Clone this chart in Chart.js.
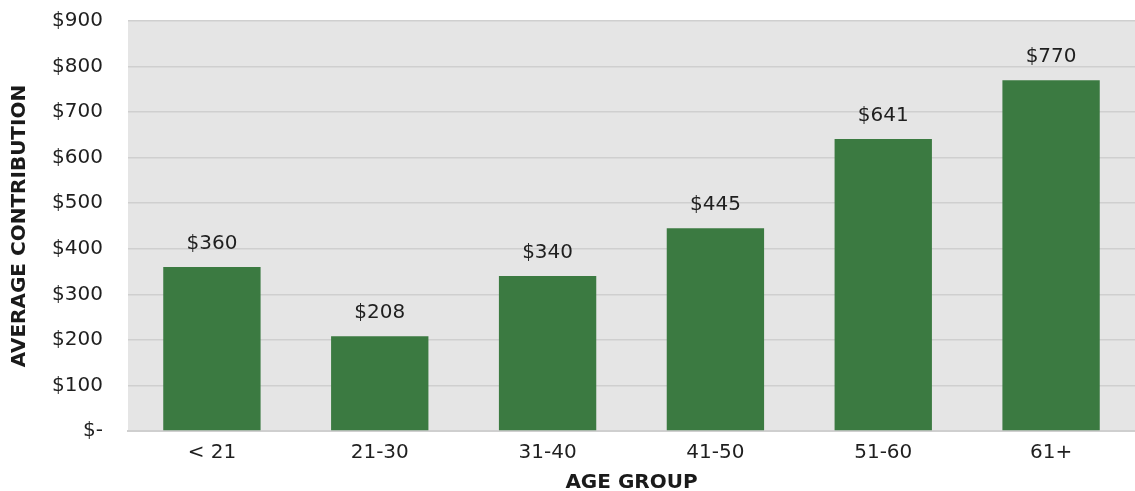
<!DOCTYPE html>
<html>
<head>
<meta charset="utf-8">
<script src="https://cdn.jsdelivr.net/npm/chart.js@4"></script>
<style>
  html, body { margin: 0; padding: 0; background: #fff; }
  #wrap { width: 1135px; height: 491px; }
</style>
</head>
<body>
<div id="wrap"><canvas id="myChart"></canvas></div>
<script>
'use strict';
let ageGroups = ['< 21', '21-30', '31-40', '41-50', '51-60', '61+'];
let avgContribution = [360, 208, 340, 445, 641, 770];
let tickValues = [0, 100, 200, 300, 400, 500, 600, 700, 800, 900];

const fontName = '"DejaVu Sans", sans-serif';

// gray plot background
const plotBg = {
  id: 'plotBg',
  beforeDraw(chart) {
    const a = chart.chartArea;
    const ctx = chart.ctx;
    ctx.save();
    ctx.fillStyle = '#e5e5e5';
    ctx.fillRect(a.left, a.top, a.right - a.left, a.bottom - a.top);
    ctx.restore();
  }
};

// value labels above each bar
const barLabels = {
  id: 'barLabels',
  afterDatasetsDraw(chart) {
    const ctx = chart.ctx;
    const meta = chart.getDatasetMeta(0);
    ctx.save();
    ctx.font = '20px ' + fontName;
    ctx.fillStyle = '#1f1f1f';
    ctx.textAlign = 'center';
    ctx.textBaseline = 'middle';
    meta.data.forEach(function (bar, i) {
      ctx.fillText('$' + avgContribution[i], bar.x, bar.y - 23);
    });
    ctx.restore();
  }
};

const ctx = document.getElementById('myChart').getContext('2d');
const myChart = new Chart(ctx, {
  type: 'bar',
  data: {
    labels: ageGroups,
    datasets: [{
      label: 'Average contribution',
      data: avgContribution,
      backgroundColor: '#3b7a41',
      borderWidth: 0,
      categoryPercentage: 1,
      barPercentage: 0.58
    }]
  },
  options: {
    responsive: true,
    maintainAspectRatio: false,
    animation: false,
    layout: { padding: { top: 21, right: 0, bottom: 0, left: 0 } },
    plugins: {
      legend: { display: false },
      tooltip: { enabled: false }
    },
    scales: {
      x: {
        grid: { display: false, drawTicks: false },
        border: { display: true, color: '#cfcfcf', width: 2 },
        ticks: { color: '#1f1f1f', font: { family: fontName, size: 20 }, padding: 10 },
        title: {
          display: true,
          text: 'AGE GROUP',
          color: '#1a1a1a',
          font: { family: fontName, size: 20, weight: 'bold', lineHeight: 1 },
          padding: { top: 8, bottom: -2 }
        },
        afterFit(scale) {
          scale.height = 60;
          scale.paddingLeft = 0;
          scale.paddingRight = 0;
        }
      },
      y: {
        min: 0,
        max: 900,
        afterBuildTicks(scale) {
          scale.ticks = tickValues.map(v => ({ value: v }));
        },
        grid: { color: '#cfcfcf', lineWidth: 1.5, drawTicks: false },
        border: { display: false },
        ticks: {
          color: '#1f1f1f',
          font: { family: fontName, size: 20 },
          padding: 25,
          callback: v => v === 0 ? '$-' : '$' + v
        },
        title: {
          display: true,
          text: 'AVERAGE CONTRIBUTION',
          color: '#1a1a1a',
          font: { family: fontName, size: 20, weight: 'bold' },
          padding: { top: 8, bottom: 0 }
        },
        afterFit(scale) {
          scale.width = 128;
          scale.paddingTop = 0;
          scale.paddingBottom = 0;
        }
      }
    }
  },
  plugins: [plotBg, barLabels]
});
</script>
</body>
</html>
